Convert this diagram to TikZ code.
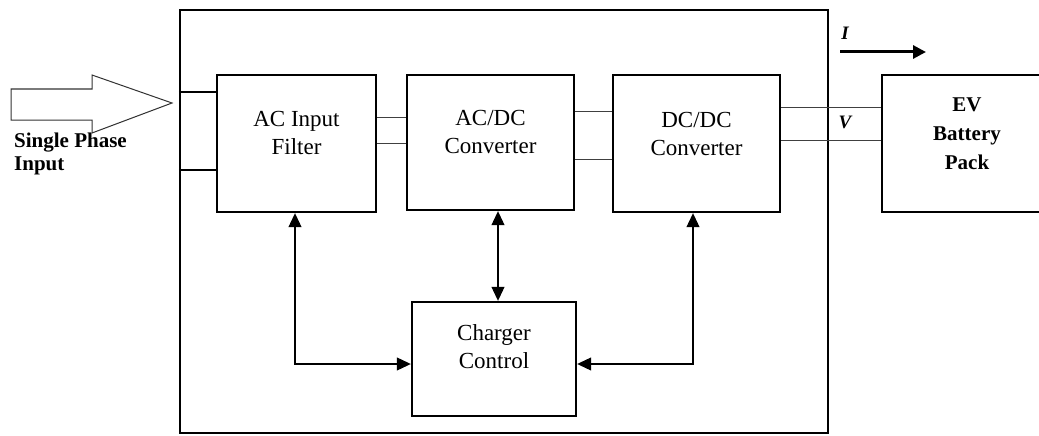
\documentclass[tikz,border=0pt]{standalone}
\usepackage{fontspec}
\setmainfont{Liberation Serif}
\usetikzlibrary{arrows.meta}
\newcommand{\boxtext}[2]{\raisebox{#1}[0pt][0pt]{\begin{tabular}{@{}c@{}}#2\end{tabular}}}
\begin{document}
\begin{tikzpicture}[x=1pt,y=-1pt,
  box/.style={draw,line width=2.4pt,inner sep=0pt,font=\fontsize{23}{28}\selectfont},
  wire/.style={line width=1pt,draw=black!75},
  ctrl/.style={line width=1.1pt,{Triangle[length=14pt,width=13pt]}-{Triangle[length=14pt,width=13pt]}},
  lbl/.style={font=\bfseries\fontsize{21}{23}\selectfont,align=left,inner sep=0pt}]
\useasboundingbox (0,0) rectangle (1039,436);
\fill[white] (0,0) rectangle (1039,436);
\node[draw,line width=2.4pt,minimum width=648pt,minimum height=423pt,inner sep=0pt] (outer) at (504,221.5) {};
\node[box,minimum width=159pt,minimum height=137pt] (filter) at (296.5,143.5) {\boxtext{2.75pt}{AC Input\\Filter}};
\node[box,minimum width=167pt,minimum height=135pt] (acdc) at (490.5,142.5) {\boxtext{2pt}{AC/DC\\Converter}};
\node[box,minimum width=167pt,minimum height=137pt] (dcdc) at (696.5,143.5) {\boxtext{1.75pt}{DC/DC\\Converter}};
\node[box,minimum width=170pt,minimum height=137pt,font=\bfseries\fontsize{21}{29}\selectfont] (batt) at (967,143.5) {\boxtext{3.25pt}{EV\\Battery\\Pack}};
\node[box,minimum width=164pt,minimum height=114pt] (ctrl) at (494,359) {\boxtext{4pt}{Charger\\Control}};
% block arrow input
\draw[line width=1pt,draw=black!80] (11,89) -- (92,89) -- (92,75) -- (172,103) -- (92,133) -- (92,120) -- (11,120) -- cycle;
\node[lbl,anchor=north west] (inlbl) at (14,133) {Single Phase\\Input};
% input lines
\draw[line width=2.4pt] (outer.west |- 0,92) -- (filter.west |- 0,92);
\draw[line width=2.4pt] (outer.west |- 0,170) -- (filter.west |- 0,170);
% wires
\draw[wire] (filter.east |- 0,117) -- (acdc.west |- 0,117);
\draw[wire] (filter.east |- 0,143) -- (acdc.west |- 0,143);
\draw[wire] (acdc.east |- 0,111) -- (dcdc.west |- 0,111);
\draw[wire] (acdc.east |- 0,159) -- (dcdc.west |- 0,159);
\draw[wire] (dcdc.east |- 0,107) -- (batt.west |- 0,107);
\draw[wire] (dcdc.east |- 0,140) -- (batt.west |- 0,140);
% control arrows
\draw[ctrl] (filter.south -| 295,0) |- (ctrl.west |- 0,364);
\draw[ctrl] (acdc.south -| 498,0) -- (ctrl.north -| 498,0);
\draw[ctrl] (dcdc.south -| 693,0) |- (ctrl.east |- 0,364);
% I and V
\coordinate (ia) at (840,52);
\coordinate (ib) at (926,52);
\draw[line width=3pt,-{Triangle[length=13pt,width=13pt]}] (ia) -- (ib);
\node[font=\bfseries\itshape\fontsize{19}{20}\selectfont,inner sep=0pt] (ilbl) at (845,33) {I};
\node[font=\bfseries\itshape\fontsize{19}{20}\selectfont,inner sep=0pt] (vlbl) at (845,122) {V};
\end{tikzpicture}
\end{document}
